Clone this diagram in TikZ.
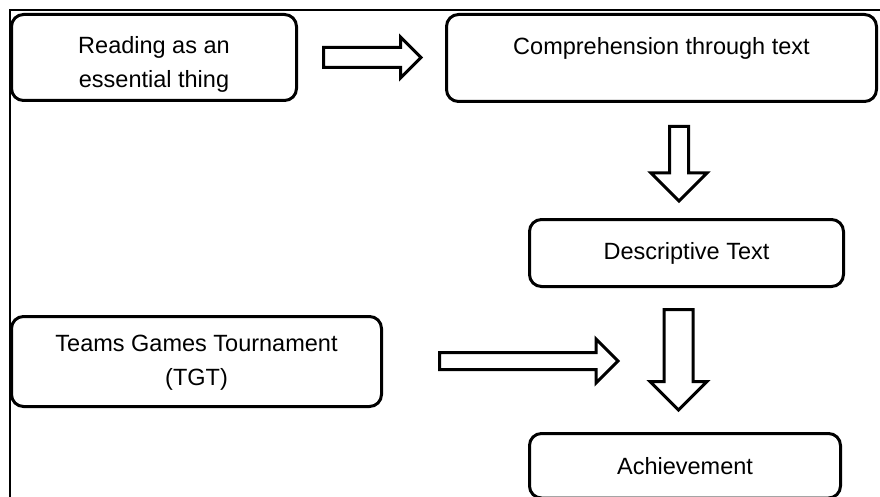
\documentclass[tikz,border=0pt]{standalone}
\usepackage{fontspec}
\setmainfont{Liberation Sans}
\usetikzlibrary{shapes.arrows}
\newcommand{\boxfont}{\fontsize{23.5}{34}\selectfont}
% two centred lines, raised by #1 from the middle of the box
\newcommand{\twolines}[3]{\raisebox{#1}[0pt][0pt]{\begin{tabular}{@{}c@{}}#2\\#3\end{tabular}}}
\tikzset{stage/.style={draw,fill=white,line width=3pt,rounded corners=12pt,
		inner sep=0pt,outer sep=0pt,font=\boxfont},
	bigarrow/.style={draw,fill=white,line width=3pt,single arrow,anchor=tail,
		single arrow tip angle=90,inner xsep=0pt,outer sep=0pt}}

\begin{document}
\begin{tikzpicture}[x=1pt,y=-1pt]
		
		\useasboundingbox (0,0) rectangle (880,497);
		
		\coordinate (R) at (154,57.5);
		\coordinate (C) at (661.5,58);
		\coordinate (D) at (686.5,253);
		\coordinate (T) at (196.5,361.5);
		\coordinate (A) at (685,465.75);
		
		% outer frame
		\draw [line width=1.3pt] (10,497) -- (10,10) -- (880,10);
		
		\node [stage,minimum width=285pt,minimum height=86pt] (nodeR) at (R)
			{\twolines{-12.5pt}{Reading as an}{essential thing}};
			
		\node [stage,minimum width=430pt,minimum height=87pt] (nodeC) at (C)
			{\raisebox{25pt}{Comprehension through text}};
			
		\node [stage,minimum width=314pt,minimum height=67pt] (nodeD) at (D)
			{Descriptive Text};
			
		\node [stage,minimum width=370pt,minimum height=90pt] (nodeT) at (T)
			{\twolines{-6.5pt}{Teams Games Tournament}{(TGT)}};
			
		\node [stage,minimum width=311pt,minimum height=64.5pt] (nodeA) at (A)
			{Achievement};
		
		% block arrows (placed by their tails)
		\node [bigarrow,minimum height=97.5pt,minimum width=38pt,inner ysep=8.5pt,
			single arrow head extend=10.5pt] (arrowRC) at (323.5,57.5) {};
		\node [bigarrow,rotate=-90,minimum height=74.5pt,minimum width=53pt,inner ysep=8pt,
			single arrow head extend=18.5pt] (arrowCD) at (679,126.5) {};
		\node [bigarrow,minimum height=178.5pt,minimum width=41pt,inner ysep=7pt,
			single arrow head extend=13.5pt] (arrowTA) at (439.5,361) {};
		\node [bigarrow,rotate=-90,minimum height=100.5pt,minimum width=54pt,inner ysep=13pt,
			single arrow head extend=14pt] (arrowDA) at (678.5,309.5) {};
		
	\end{tikzpicture}
\end{document}
